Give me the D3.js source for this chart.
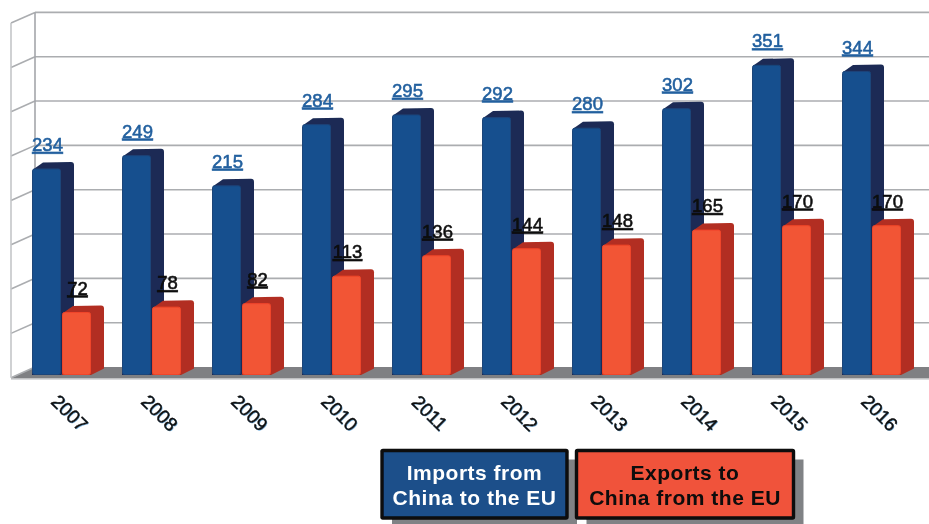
<!DOCTYPE html>
<html><head><meta charset="utf-8">
<script src="https://cdn.jsdelivr.net/npm/d3@7"></script>
<style>
html,body{margin:0;padding:0;background:#fff;overflow:hidden}
svg{display:block}
text{font-family:"Liberation Sans",Arial,sans-serif}
</style></head><body>
<svg id="c" width="929" height="524"></svg>
<script>
const years=[2007,2008,2009,2010,2011,2012,2013,2014,2015,2016];
const imports=[234,249,215,284,295,292,280,302,351,344];
const exports_=[72,78,82,113,136,144,148,165,170,170];
const gridTicks=[0,50,100,150,200,250,300,350,400];
const seriesNames=["imports","exports"];
const legendImports=["Imports from","China to the EU"];
const legendExports=["Exports to","China from the EU"];

const W=929,H=524;
const svg=d3.select("#c");
const defs=svg.append("defs");
defs.append("filter").attr("id","soft").attr("x","-5%").attr("y","-5%").attr("width","110%").attr("height","110%")
  .append("feGaussianBlur").attr("stdDeviation",0.55);
const root=svg.append("g").attr("filter","url(#soft)");

const frontY=d3.scaleLinear().domain([0,400]).range([375.8,21.4]);
const backY=d3.scaleLinear().domain([0,400]).range([367,12.4]);
const x0=d3.scaleBand().domain(years).range([32,932]);
const x1=d3.scaleBand().domain(seriesNames).range([0,60]);
const depthX=13,depthY=6.5;
const wallBackX=35,wallFrontX=11,wallDy=10.7;

// floor
root.append("path").attr("fill","#7f8083")
  .attr("d",`M${wallFrontX},378.3L${wallBackX},${backY(0)}L${W},${backY(0)}L${W},378.3Z`);
// walls / grid
const g=root.append("g").attr("fill","none").attr("stroke","#abadb0").attr("stroke-width",1.6);
g.selectAll("line.h").data(gridTicks.slice(1)).join("line").attr("class","h")
  .attr("x1",wallBackX).attr("x2",W).attr("y1",d=>backY(d)).attr("y2",d=>backY(d));
g.selectAll("line.d").data(gridTicks).join("line").attr("class","d")
  .attr("x1",wallFrontX).attr("x2",wallBackX).attr("y1",d=>backY(d)+wallDy).attr("y2",d=>backY(d));
g.append("line").attr("x1",wallBackX).attr("x2",wallBackX).attr("y1",backY(400)).attr("y2",backY(0)).attr("stroke","#a4a6aa");
g.append("line").attr("x1",wallFrontX).attr("x2",wallFrontX).attr("y1",backY(400)+wallDy).attr("y2",backY(0)+wallDy).attr("stroke","#c4c6c8");
root.append("line").attr("x1",wallFrontX).attr("x2",W).attr("y1",378.8).attr("y2",378.8).attr("stroke","#b4b6b9").attr("stroke-width",1.2);

const styles={
  imports:{front:"#14508e",edge:"#1c4479",side:"#1b2b54",labelFill:"#22609f"},
  exports:{front:"#f25436",edge:"#f0452a",side:"#b22e20",labelFill:"#0c0c0c"}
};
function bar(sel,name,vals){
  const st=styles[name],w=29;
  const gs=sel.selectAll("g."+name).data(years.map((y,i)=>({y,v:vals[i]}))).join("g").attr("class",name);
  const X=d=>x0(d.y)+x1(name);
  gs.append("path").attr("fill",st.side).attr("d",d=>{
    const x=X(d),t=frontY(d.v),r=3,b=frontY(0)-.8;
    return `M${x+1},${t+1}L${x+depthX-2},${t-depthY+.5}L${x+w+depthX-r},${t-depthY}Q${x+w+depthX},${t-depthY} ${x+w+depthX},${t-depthY+r}`+
      `L${x+w+depthX},${b-depthY}L${x+w},${b}L${x},${b}Z`;
  });
  gs.append("path").attr("fill",st.front).attr("stroke",st.edge).attr("stroke-width",1).attr("d",d=>{
    const x=X(d)+.5,t=frontY(d.v)+.5,b=frontY(0)-1.3,ww=w-1,r=2;
    return `M${x},${t+r}Q${x},${t} ${x+r},${t}L${x+ww-r},${t}Q${x+ww},${t} ${x+ww},${t+r}L${x+ww},${b-r}Q${x+ww},${b} ${x+ww-r},${b}L${x+r},${b}Q${x},${b} ${x},${b-r}Z`;
  });
}
function labels(sel,name,vals){
  const st=styles[name];
  const data=years.map((y,i)=>({y,v:vals[i]}));
  sel.selectAll("text."+name).data(data).join("text").attr("class",name)
    .attr("x",d=>x0(d.y)+x1(name)+15.5).attr("y",d=>frontY(d.v)-17.5)
    .attr("text-anchor","middle").attr("font-size",18.5).attr("fill",st.labelFill)
    .attr("text-decoration","underline")
    .attr("stroke",st.labelFill).attr("stroke-width",0.55)
    .text(d=>d.v);
}
const bars=root.append("g");
bar(bars,"imports",imports);
bar(bars,"exports",exports_);
const lab=root.append("g");
labels(lab,"imports",imports);
labels(lab,"exports",exports_);

// year tick labels
const tickCx=d=>x0(d)+37.5;
const tl=root.append("g");
tl.selectAll("text.sh").data(years).join("text").attr("class","sh")
  .attr("transform",d=>`translate(${tickCx(d)+.7},${413.7}) rotate(45)`)
  .attr("text-anchor","middle").attr("dominant-baseline","central")
  .attr("font-size",19).attr("fill","#3d8fd0").attr("opacity",.7).text(d=>d);
tl.selectAll("text.t").data(years).join("text").attr("class","t")
  .attr("transform",d=>`translate(${tickCx(d)},${413}) rotate(45)`)
  .attr("text-anchor","middle").attr("dominant-baseline","central")
  .attr("font-size",19).attr("fill","#111").attr("stroke","#111").attr("stroke-width",0.4).text(d=>d);

// legend
function legend(x,y,w,h,fill,txtFill,lines){
  const l=root.append("g");
  l.append("rect").attr("x",x+10).attr("y",y+9).attr("width",w).attr("height",h).attr("fill","#808285");
  l.append("rect").attr("x",x).attr("y",y).attr("width",w).attr("height",h).attr("fill",fill)
    .attr("stroke","#0a0a0a").attr("stroke-width",3.4).attr("rx",1);
  l.selectAll("text").data(lines).join("text")
    .attr("x",x+w/2).attr("y",(d,i)=>y+29+i*25)
    .attr("text-anchor","middle").attr("font-size",21).attr("font-weight","bold")
    .attr("letter-spacing",0.5).attr("fill",txtFill).text(d=>d);
}
legend(382,450.5,185,67.5,"#1a4f8a","#fff",legendImports);
legend(576.5,450.5,217,67.5,"#f0523a","#0a0a0a",legendExports);
</script></body></html>
